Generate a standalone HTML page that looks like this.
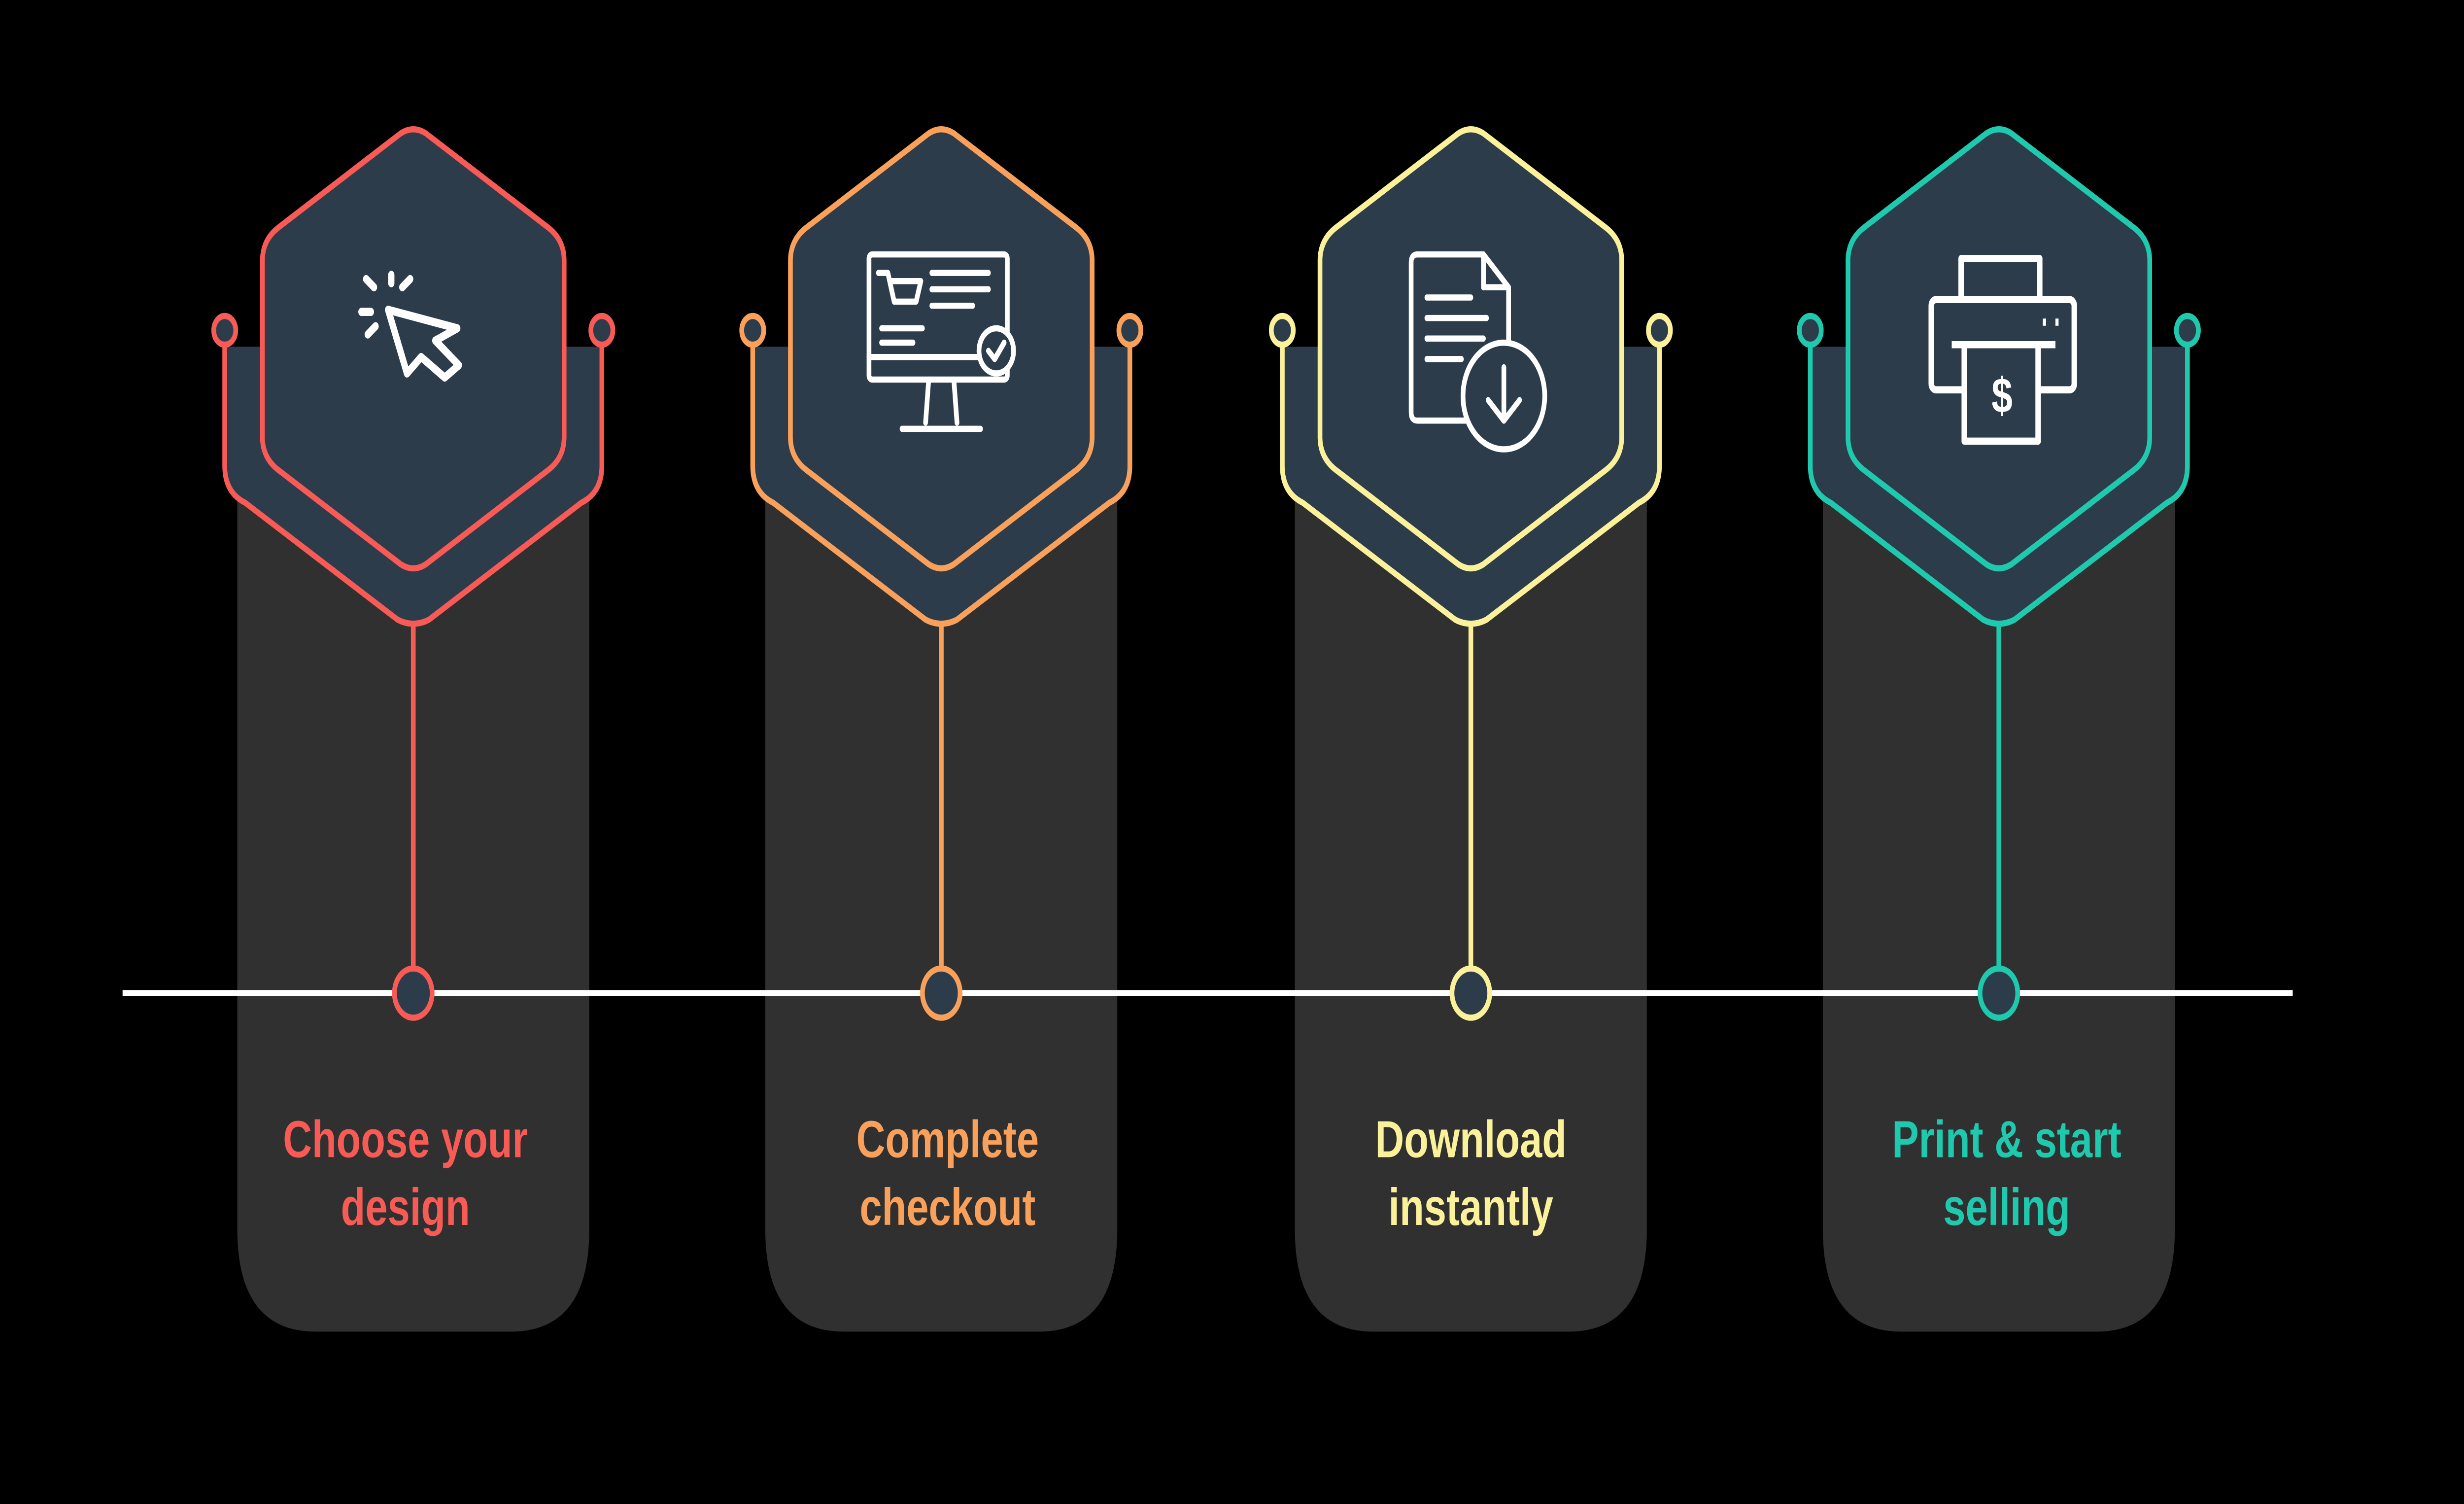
<!DOCTYPE html>
<html><head><meta charset="utf-8"><style>
html,body{margin:0;padding:0;background:#000;width:100%;height:100%;overflow:hidden;}
svg{display:block;position:absolute;left:0;top:0;width:100%;height:100%;}
text{font-family:"Liberation Sans",sans-serif;font-weight:bold;font-size:25.5px;text-anchor:middle;}
</style></head><body>
<svg viewBox="0 0 1568 733" preserveAspectRatio="none" xmlns="http://www.w3.org/2000/svg">
<rect width="1568" height="733" fill="#000"/>
<defs>
<g id="card">
  <path d="M-112,5 L112,5 L112,434 Q112,484 62,484 L-62,484 Q-112,484 -112,434 Z" fill="#303030"/>
</g>
<path id="inner" d="M-86,-54 L-8,-100 Q0,-104 8,-100 L86,-54 Q96,-48 96,-38 L96,48 Q96,58 86,64 L8,110 Q0,114 -8,110 L-86,64 Q-96,58 -96,48 L-96,-38 Q-96,-48 -86,-54 Z"/>
</defs>

<g transform="translate(263,165)"><use href="#card"/></g>
<g transform="translate(599,165)"><use href="#card"/></g>
<g transform="translate(936,165)"><use href="#card"/></g>
<g transform="translate(1272,165)"><use href="#card"/></g>

<line x1="78" y1="484" x2="1459" y2="484" stroke="#fff" stroke-width="3"/>

<g transform="translate(263,165)">
  <path d="M-120,4 L-120,62 Q-120,75 -107,80 L-10,137 Q0,141 10,137 L107,80 Q120,75 120,62 L120,4 Z" fill="#2d3c4b"/>
  <path d="M-120,2 L-120,62 Q-120,75 -107,80 L-10,137 Q0,141 10,137 L107,80 Q120,75 120,62 L120,2" fill="none" stroke="#f85a55" stroke-width="3"/>
  <circle cx="-120" cy="-4" r="7" fill="#2d3c4b" stroke="#f85a55" stroke-width="3"/>
  <circle cx="120" cy="-4" r="7" fill="#2d3c4b" stroke="#f85a55" stroke-width="3"/>
  <use href="#inner" fill="#2d3c4b" stroke="#f85a55" stroke-width="3"/>
  <line x1="0" y1="140" x2="0" y2="307" stroke="#f85a55" stroke-width="3"/>
  <circle cx="0" cy="319" r="12" fill="#2d3c4b" stroke="#f85a55" stroke-width="3"/>
  <g stroke="#fff" stroke-width="4" fill="none" stroke-linecap="round" stroke-linejoin="round">
    <path d="M-16,-14 L28,-5 L14,1 L29,13 L20,19 L5,9 L-4,17 Z"/>
    <line x1="-14" y1="-31" x2="-14" y2="-27"/>
    <line x1="-30" y1="-29" x2="-25" y2="-25"/>
    <line x1="-2" y1="-29" x2="-7" y2="-25"/>
    <line x1="-33" y1="-13" x2="-27" y2="-13"/>
    <line x1="-29" y1="-2" x2="-24" y2="-6"/>
  </g>
</g>
<text x="258" y="564" fill="#f85a55">Choose your</text>
<text x="258" y="597" fill="#f85a55">design</text>

<g transform="translate(599,165)">
  <path d="M-120,4 L-120,62 Q-120,75 -107,80 L-10,137 Q0,141 10,137 L107,80 Q120,75 120,62 L120,4 Z" fill="#2d3c4b"/>
  <path d="M-120,2 L-120,62 Q-120,75 -107,80 L-10,137 Q0,141 10,137 L107,80 Q120,75 120,62 L120,2" fill="none" stroke="#f9a05a" stroke-width="3"/>
  <circle cx="-120" cy="-4" r="7" fill="#2d3c4b" stroke="#f9a05a" stroke-width="3"/>
  <circle cx="120" cy="-4" r="7" fill="#2d3c4b" stroke="#f9a05a" stroke-width="3"/>
  <use href="#inner" fill="#2d3c4b" stroke="#f9a05a" stroke-width="3"/>
  <line x1="0" y1="140" x2="0" y2="307" stroke="#f9a05a" stroke-width="3"/>
  <circle cx="0" cy="319" r="12" fill="#2d3c4b" stroke="#f9a05a" stroke-width="3"/>
  <g stroke="#fff" stroke-width="3" fill="none" stroke-linecap="round" stroke-linejoin="round">
    <rect x="-46" y="-41" width="88" height="61" rx="2"/>
    <line x1="-46" y1="9" x2="30" y2="9"/>
    <path d="M-8,20 L-10,41 M8,20 L10,41 M-25,44 L25,44"/>
    <path d="M-40,-32 L-34,-32 L-30,-18 L-16,-18 L-13,-28 L-32,-28"/>
    <line x1="-6" y1="-32" x2="30" y2="-32"/><line x1="-6" y1="-24" x2="30" y2="-24"/><line x1="-6" y1="-16" x2="20" y2="-16"/>
    <line x1="-38" y1="-5" x2="-12" y2="-5"/><line x1="-38" y1="2" x2="-18" y2="2"/>
    <circle cx="35" cy="6" r="11" fill="#2d3c4b"/>
    <path d="M30,6 L34,10 L40,2"/>
  </g>
</g>
<text x="603" y="564" fill="#f9a05a">Complete</text>
<text x="603" y="597" fill="#f9a05a">checkout</text>

<g transform="translate(936,165)">
  <path d="M-120,4 L-120,62 Q-120,75 -107,80 L-10,137 Q0,141 10,137 L107,80 Q120,75 120,62 L120,4 Z" fill="#2d3c4b"/>
  <path d="M-120,2 L-120,62 Q-120,75 -107,80 L-10,137 Q0,141 10,137 L107,80 Q120,75 120,62 L120,2" fill="none" stroke="#fbf19a" stroke-width="3"/>
  <circle cx="-120" cy="-4" r="7" fill="#2d3c4b" stroke="#fbf19a" stroke-width="3"/>
  <circle cx="120" cy="-4" r="7" fill="#2d3c4b" stroke="#fbf19a" stroke-width="3"/>
  <use href="#inner" fill="#2d3c4b" stroke="#fbf19a" stroke-width="3"/>
  <line x1="0" y1="140" x2="0" y2="307" stroke="#fbf19a" stroke-width="3"/>
  <circle cx="0" cy="319" r="12" fill="#2d3c4b" stroke="#fbf19a" stroke-width="3"/>
  <g stroke="#fff" stroke-width="3" fill="none" stroke-linecap="round" stroke-linejoin="round">
    <path d="M-2,40 L-34,40 Q-38,40 -38,36 L-38,-37 Q-38,-41 -34,-41 L8,-41 L24,-25 L24,4"/>
    <path d="M8,-41 L8,-25 L24,-25"/>
    <line x1="-28" y1="-20" x2="0" y2="-20"/><line x1="-28" y1="-10" x2="10" y2="-10"/><line x1="-28" y1="0" x2="8" y2="0"/><line x1="-28" y1="10" x2="-6" y2="10"/>
    <circle cx="21" cy="28" r="26" fill="#2d3c4b"/>
    <path d="M21,14 L21,40 M11,30 L21,40 L31,30"/>
  </g>
</g>
<text x="936" y="564" fill="#fbf19a">Download</text>
<text x="936" y="597" fill="#fbf19a">instantly</text>

<g transform="translate(1272,165)">
  <path d="M-120,4 L-120,62 Q-120,75 -107,80 L-10,137 Q0,141 10,137 L107,80 Q120,75 120,62 L120,4 Z" fill="#2d3c4b"/>
  <path d="M-120,2 L-120,62 Q-120,75 -107,80 L-10,137 Q0,141 10,137 L107,80 Q120,75 120,62 L120,2" fill="none" stroke="#1ec9ad" stroke-width="3"/>
  <circle cx="-120" cy="-4" r="7" fill="#2d3c4b" stroke="#1ec9ad" stroke-width="3"/>
  <circle cx="120" cy="-4" r="7" fill="#2d3c4b" stroke="#1ec9ad" stroke-width="3"/>
  <use href="#inner" fill="#2d3c4b" stroke="#1ec9ad" stroke-width="3"/>
  <line x1="0" y1="140" x2="0" y2="307" stroke="#1ec9ad" stroke-width="3"/>
  <circle cx="0" cy="319" r="12" fill="#2d3c4b" stroke="#1ec9ad" stroke-width="3"/>
  <g stroke="#fff" stroke-width="3.5" fill="none" stroke-linejoin="round">
    <rect x="-24" y="-39" width="50" height="20"/>
    <rect x="-43" y="-19" width="91" height="44" rx="3"/>
    <line x1="-30" y1="3" x2="36" y2="3"/>
    <rect x="-22" y="3" width="47" height="47" fill="#2d3c4b"/>
    <line x1="28" y1="-8" x2="30" y2="-8"/><line x1="36" y1="-8" x2="38" y2="-8"/>
  </g>
  <text x="2" y="36" fill="#fff" style="font-size:24px">$</text>
</g>
<text x="1277" y="564" fill="#1ec9ad">Print &amp; start</text>
<text x="1277" y="597" fill="#1ec9ad">selling</text>
</svg>
</body></html>
